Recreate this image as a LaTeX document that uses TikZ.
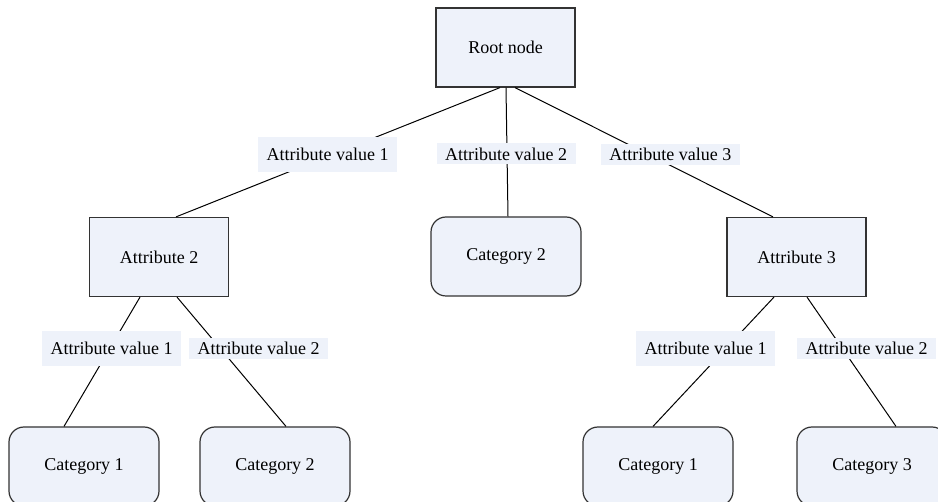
\documentclass[tikz,border=0pt]{standalone}
\usepackage{fontspec}
\setmainfont{Liberation Serif}
\definecolor{boxfill}{HTML}{EEF2FA}
\definecolor{boxline}{HTML}{333333}
\tikzset{
  attr/.style={draw=boxline,fill=boxfill,line width=1.2pt,minimum width=139pt,
               minimum height=79pt,inner sep=0pt},
  leaf/.style={attr,minimum width=150pt,rounded corners=15pt},
  val/.style={fill=boxfill,minimum width=139pt,minimum height=21pt,inner sep=0pt},
  valhi/.style={val,minimum height=35pt}
}

\begin{document}
\begin{tikzpicture}[x=1pt,y=-1pt,font=\fontsize{18}{20}\selectfont]
        \useasboundingbox (0,0) rectangle (938,502);

        \node[attr]  (R00)  at (505.5,47.5)  {Root node};
        \node[attr]  (A02)  at (159,257)     {Attribute 2};
        \node[leaf]  (C02)  at (506,256.5)   {Category 2};
        \node[attr]  (A03)  at (796.5,257)   {Attribute 3};
        \node[leaf]  (C21)  at (84,466.5)    {Category 1};
        \node[leaf]  (C22)  at (275,466.5)   {Category 2};
        \node[leaf]  (C31)  at (658,466.5)   {Category 1};
        \node[leaf]  (C33)  at (872,466.5)   {Category 3};

        \path[draw=black,line width=1pt]
                  ([xshift=-5.5pt]R00.south) edge node [valhi,pos=0.515,xshift=-5.5pt] {Attribute value 1} ([xshift=17pt]A02.north)
                  ([xshift=0.5pt]R00.south)  edge node [val,pos=0.515,xshift=-1pt]     {Attribute value 2} ([xshift=2pt]C02.north)
                  ([xshift=9.5pt]R00.south)  edge node [val,pos=0.515,xshift=22.5pt]   {Attribute value 3} ([xshift=-23.5pt]A03.north)
                  ([xshift=-19pt]A02.south)  edge node [valhi,pos=0.4,xshift=2pt]      {Attribute value 1} ([xshift=-20pt]C21.north)
                  ([xshift=18pt]A02.south)   edge node [val,pos=0.4,xshift=38pt]       {Attribute value 2} ([xshift=11pt]C22.north)
                  ([xshift=-22.5pt]A03.south) edge node [valhi,pos=0.4,xshift=-20pt]   {Attribute value 1} ([xshift=-5pt]C31.north)
                  ([xshift=10.5pt]A03.south) edge node [val,pos=0.4,xshift=24pt]       {Attribute value 2} ([xshift=24pt]C33.north);
      \end{tikzpicture}
\end{document}
